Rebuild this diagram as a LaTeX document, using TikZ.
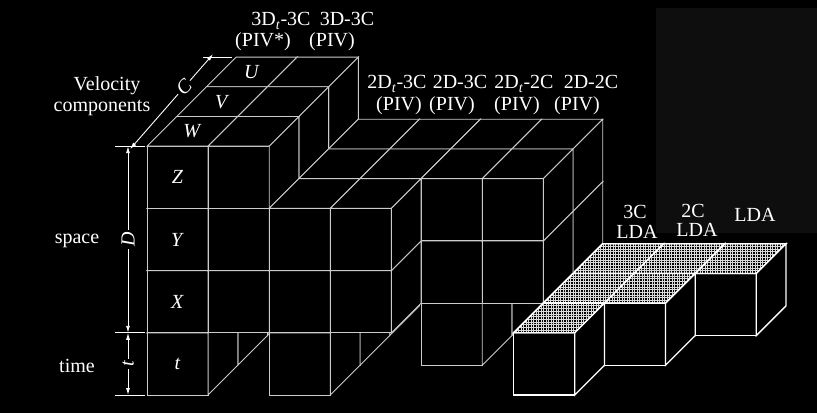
\documentclass[tikz,border=0pt]{standalone}
\usepackage{fontspec}
\setmainfont{Liberation Serif}
\usetikzlibrary{arrows.meta}
\definecolor{edge}{gray}{0.8}
\definecolor{haze}{gray}{0.055}
\tikzset{
  cellface/.style={fill=black, draw=edge, line width=0.9pt},
  ldaface/.style={draw=white, line width=1.3pt},
  hatch/.style={draw=white!85!black, line width=0.7pt},
  dimline/.style={draw=white, line width=0.9pt},
  dimarrow/.style={dimline, {Latex[length=7pt,width=4pt]}-{Latex[length=7pt,width=4pt]}},
  lbl/.style={text=white, font=\fontsize{20}{20}\selectfont, inner sep=0pt},
}
% one cell: c, r, d
\newcommand{\vcell}[4][]{%
  \filldraw[cellface,#1] (#2,#3,#4) -- ++(1,0,0) -- ++(0,1,0) -- ++(-1,0,0) -- cycle;
  \filldraw[cellface,#1] (#2,#3+1,#4) -- ++(1,0,0) -- ++(0,0,1) -- ++(-1,0,0) -- cycle;
  \filldraw[cellface,#1] (#2+1,#3,#4) -- ++(0,0,1) -- ++(0,1,0) -- ++(0,0,-1) -- cycle;
}
% time cell of the LDA, hatched on top: c, d
\newcommand{\ldacell}[2]{%
  \vcell[ldaface]{#1}{0}{#2}
  \begin{scope}
    \clip (#1,1,#2) -- ++(1,0,0) -- ++(0,0,1) -- ++(-1,0,0) -- cycle;
    \foreach \k in {0,...,36}{\draw[hatch] (#1,1,#2) ++(\k*2.5pt,-1pt) -- ++(0pt,32pt);}
    \foreach \k in {0,...,11}{\draw[hatch] (#1,1,#2) ++(0pt,\k*2.7pt) -- ++(92pt,0pt);}
  \end{scope}
  \draw[ldaface] (#1,1,#2) -- ++(1,0,0) -- ++(0,0,1) -- ++(-1,0,0) -- cycle;
}

\begin{document}
\begin{tikzpicture}[x={(61.1pt,0pt)}, y={(0pt,62.2pt)}, z={(29.7pt,29.7pt)}]
\fill[black] (0pt,0pt) rectangle (817pt,413pt);
\fill[haze] (656pt,180pt) rectangle (817pt,405pt);
\useasboundingbox (0pt,0pt) rectangle (817pt,413pt);

\begin{scope}[shift={(147pt,18pt)}]
  % back layer (U) first, then V, then W
  \foreach \d in {2,1,0}{
    \foreach \r in {0,...,3}{\vcell{0}{\r}{\d}}
    \foreach \r in {1,2,3}{\vcell{1}{\r}{\d}}
    \foreach \r in {0,1,2}{\vcell{2}{\r}{\d}}
    \foreach \r in {1,2}{\vcell{3}{\r}{\d}}
    \ifnum\d>0
      \foreach \r in {0,1,2}{\vcell{4}{\r}{\d}}
      \foreach \r in {1,2}{\vcell{5}{\r}{\d}}
    \fi
    \foreach \c in {6,7,8}{\ifnum\numexpr\c-\d<7 \ldacell{\c}{\d}\fi}
  }

  \node[lbl] (cz) at (0.5,3.5,0) {\textit{Z}};
  \node[lbl] (cy) at (0.5,2.5,0) {\textit{Y}};
  \node[lbl] (cx) at (0.5,1.5,0) {\textit{X}};
  \node[lbl] (ct) at (0.5,0.5,0) {\textit{t}};
  \node[lbl] (cw) at (0.5,4,0.5) {\textit{W}};
  \node[lbl] (cv) at (0.5,4,1.5) {\textit{V}};
  \node[lbl] (cu) at (0.5,4,2.5) {\textit{U}};

  % dimensions
  \coordinate (ta) at ([xshift=-32pt]0,4,0);
  \coordinate (tb) at ([xshift=-2pt]0,4,0);
  \coordinate (tc) at ([xshift=-32pt]0,1,0);
  \coordinate (td) at ([xshift=-2pt]0,1,0);
  \coordinate (te) at ([xshift=-32pt]0,0,0);
  \coordinate (tf) at ([xshift=-2pt]0,0,0);
  \coordinate (tg) at ([xshift=-33pt]0,4,3);
  \coordinate (th) at ([xshift=-4pt]0,4,3);
  \draw[dimline] (ta) -- (tb);
  \draw[dimline] (tc) -- (td);
  \draw[dimline] (te) -- (tf);
  \draw[dimline] (tg) -- (th);

  \coordinate (d1) at ([xshift=-19pt]0,4,0);
  \coordinate (d2) at ([xshift=-19pt]0,1,0);
  \coordinate (d3) at ([xshift=-19pt]0,0,0);
  \coordinate (c1) at ([xshift=-17pt,yshift=-3pt]0,4,0);
  \coordinate (c2) at ([xshift=-23pt,yshift=3pt]0,4,3);
  \draw[dimarrow] (d1) -- (d2) node[midway, lbl, fill=black, inner sep=2pt, rotate=90] (dd) {\textit{D}};
  \draw[dimarrow] (d2) -- (d3) node[midway, lbl, fill=black, inner sep=2pt, rotate=90] (dt) {\textit{t}};
  \draw[dimarrow] (c1) -- (c2) node[pos=0.65, lbl, fill=black, inner sep=2pt, rotate=45] (dc) {\textit{C}};
\end{scope}

% names of the techniques
\node[lbl, anchor=base] (n1) at (281pt,387pt) {3D\textsubscript{\textit{t}}-3C};
\node[lbl, anchor=base] (p1) at (263pt,366pt) {(PIV*)};
\node[lbl, anchor=base] (n2) at (347pt,387pt) {3D-3C};
\node[lbl, anchor=base] (p2) at (332pt,366pt) {(PIV)};
\node[lbl, anchor=base] (n3) at (397pt,324pt) {2D\textsubscript{\textit{t}}-3C};
\node[lbl, anchor=base] (p3) at (399pt,302pt) {(PIV)};
\node[lbl, anchor=base] (n4) at (460pt,324pt) {2D-3C};
\node[lbl, anchor=base] (p4) at (452pt,302pt) {(PIV)};
\node[lbl, anchor=base] (n5) at (524pt,324pt) {2D\textsubscript{\textit{t}}-2C};
\node[lbl, anchor=base] (p5) at (517pt,302pt) {(PIV)};
\node[lbl, anchor=base] (n6) at (591pt,324pt) {2D-2C};
\node[lbl, anchor=base] (p6) at (577pt,302pt) {(PIV)};
\node[lbl, anchor=base] (n7) at (635pt,194pt) {3C};
\node[lbl, anchor=base] (p7) at (637pt,175pt) {LDA};
\node[lbl, anchor=base] (n8) at (693pt,196pt) {2C};
\node[lbl, anchor=base] (p8) at (697pt,176pt) {LDA};
\node[lbl, anchor=base] (n9) at (755pt,191pt) {LDA};

\node[lbl, anchor=base] (vel) at (107pt,322pt) {Velocity};
\node[lbl, anchor=base] (comp) at (102pt,301pt) {components};
\node[lbl, anchor=base] (spc) at (77pt,170pt) {space};
\node[lbl, anchor=base] (tim) at (77pt,41pt) {time};
\end{tikzpicture}
\end{document}
